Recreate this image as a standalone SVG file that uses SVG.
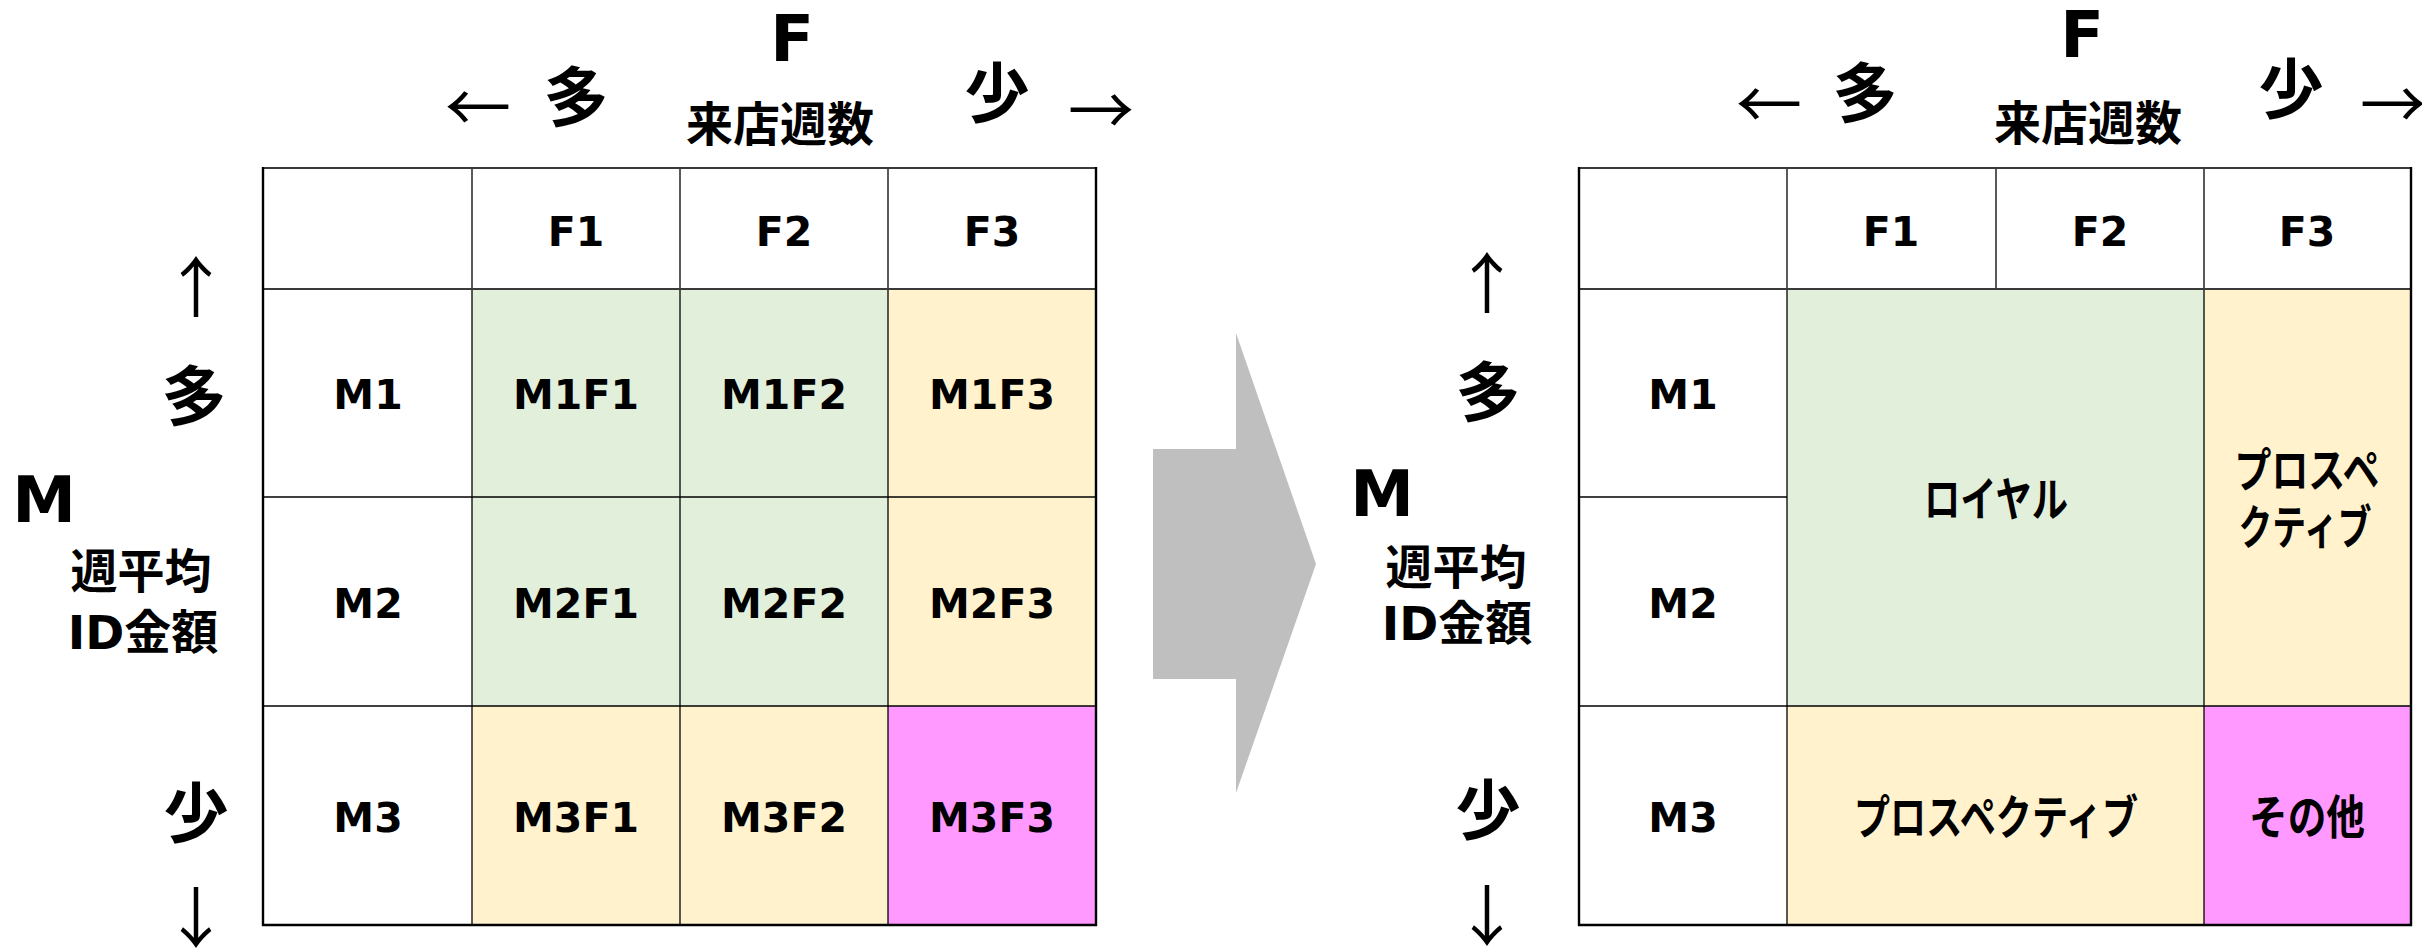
<svg xmlns="http://www.w3.org/2000/svg" width="2422" height="949" viewBox="0 0 2422 949">
<style>
.lat{font-family:"DejaVu Sans",Verdana,"Liberation Sans",sans-serif;font-weight:bold;fill:#000;text-anchor:middle}
.jp{font-family:"Noto Sans CJK JP","Noto Sans",sans-serif;font-weight:bold;fill:#000;text-anchor:middle}
.id{font-family:"DejaVu Sans",Verdana,sans-serif;font-weight:bold}
.arr{font-family:"Noto Sans CJK JP",sans-serif;font-weight:400;fill:#000;text-anchor:middle}
.g{fill:#E2EFDA}.y{fill:#FFF2CC}.p{fill:#FF99FF}.w{fill:#FFFFFF}
.thin{stroke:#000;stroke-width:1.3;fill:none}
.hd{stroke:#3a3a3a;stroke-width:2.2;fill:none}
.bd{stroke:#000;stroke-width:2.4;fill:none}
.cell{font-size:41px}
.kana{font-size:47px}
.big{font-size:64px}
.ax{font-size:65px}
.sub{font-size:47px}
.ml{font-size:47px}
.arw{font-size:66px}
</style>
<rect x="0" y="0" width="2422" height="949" fill="#fff"/>

<!-- LEFT MATRIX -->
<g id="left-table">
  <rect class="w" x="263" y="168" width="833" height="757"/>
  <rect class="g" x="472" y="289" width="416" height="417"/>
  <rect class="y" x="888" y="289" width="208" height="417"/>
  <rect class="y" x="472" y="706" width="416" height="219"/>
  <rect class="p" x="888" y="706" width="208" height="219"/>
  <line class="thin" x1="472" y1="168" x2="472" y2="925"/>
  <line class="thin" x1="680" y1="168" x2="680" y2="925"/>
  <line class="thin" x1="888" y1="168" x2="888" y2="925"/>
  <line class="thin" x1="263" y1="497" x2="1096" y2="497"/>
  <line class="thin" x1="263" y1="706" x2="1096" y2="706"/>
  <line class="hd" x1="263" y1="168" x2="1096" y2="168"/>
  <line class="hd" x1="263" y1="289" x2="1096" y2="289"/>
  <line class="bd" x1="263" y1="167" x2="263" y2="926"/>
  <line class="bd" x1="1096" y1="167" x2="1096" y2="926"/>
  <line class="bd" x1="262" y1="925" x2="1097" y2="925"/>
</g>
<g id="left-cells">
  <text class="lat cell" x="576" y="246">F1</text>
  <text class="lat cell" x="784" y="246">F2</text>
  <text class="lat cell" x="992" y="246">F3</text>
  <text class="lat cell" x="368" y="409">M1</text>
  <text class="lat cell" x="576" y="409">M1F1</text>
  <text class="lat cell" x="784" y="409">M1F2</text>
  <text class="lat cell" x="992" y="409">M1F3</text>
  <text class="lat cell" x="368" y="618">M2</text>
  <text class="lat cell" x="576" y="618">M2F1</text>
  <text class="lat cell" x="784" y="618">M2F2</text>
  <text class="lat cell" x="992" y="618">M2F3</text>
  <text class="lat cell" x="368" y="832">M3</text>
  <text class="lat cell" x="576" y="832">M3F1</text>
  <text class="lat cell" x="784" y="832">M3F2</text>
  <text class="lat cell" x="992" y="832">M3F3</text>
</g>
<g id="left-axis-f">
  <text class="lat big" x="792" y="61">F</text>
  <text class="jp sub" x="780" y="141">来店週数</text>
  <text class="arr arw" x="478" y="132">←</text>
  <text class="jp ax" x="576" y="121">多</text>
  <text class="jp ax" x="997" y="117">少</text>
  <text class="arr arw" x="1101" y="135">→</text>
</g>
<g id="left-axis-m">
  <text class="arr arw" x="196" y="312">↑</text>
  <text class="jp ax" x="194" y="420">多</text>
  <text class="lat big" x="44" y="522">M</text>
  <text class="jp ml" x="141" y="588">週平均</text>
  <text class="jp ml" x="143" y="649"><tspan class="id">ID</tspan>金額</text>
  <text class="jp ax" x="196" y="837">少</text>
  <text class="arr arw" x="196" y="942">↓</text>
</g>

<!-- BIG ARROW -->
<g id="transition-arrow">
  <polygon points="1153,449 1236,449 1236,333 1316,564 1236,793 1236,679 1153,679" fill="#BFBFBF"/>
</g>

<!-- RIGHT MATRIX -->
<g id="right-table">
  <rect class="w" x="1579" y="168" width="832" height="757"/>
  <rect class="g" x="1787" y="289" width="417" height="417"/>
  <rect class="y" x="2204" y="289" width="207" height="417"/>
  <rect class="y" x="1787" y="706" width="417" height="219"/>
  <rect class="p" x="2204" y="706" width="207" height="219"/>
  <line class="thin" x1="1787" y1="168" x2="1787" y2="925"/>
  <line class="thin" x1="1996" y1="168" x2="1996" y2="289"/>
  <line class="thin" x1="2204" y1="168" x2="2204" y2="925"/>
  <line class="thin" x1="1579" y1="497" x2="1787" y2="497"/>
  <line class="thin" x1="1579" y1="706" x2="2411" y2="706"/>
  <line class="hd" x1="1579" y1="168" x2="2411" y2="168"/>
  <line class="hd" x1="1579" y1="289" x2="2411" y2="289"/>
  <line class="bd" x1="1579" y1="167" x2="1579" y2="926"/>
  <line class="bd" x1="2411" y1="167" x2="2411" y2="926"/>
  <line class="bd" x1="1578" y1="925" x2="2412" y2="925"/>
</g>
<g id="right-cells">
  <text class="lat cell" x="1891" y="246">F1</text>
  <text class="lat cell" x="2100" y="246">F2</text>
  <text class="lat cell" x="2307" y="246">F3</text>
  <text class="lat cell" x="1683" y="409">M1</text>
  <text class="lat cell" x="1683" y="618">M2</text>
  <text class="lat cell" x="1683" y="832">M3</text>
  <text class="jp kana" x="1996" y="516" textLength="144" lengthAdjust="spacingAndGlyphs">ロイヤル</text>
  <text class="jp kana" x="2307" y="487" textLength="145" lengthAdjust="spacingAndGlyphs">プロスペ</text>
  <text class="jp kana" x="2305" y="544" textLength="133" lengthAdjust="spacingAndGlyphs">クティブ</text>
  <text class="jp kana" x="1996" y="834" textLength="284" lengthAdjust="spacingAndGlyphs">プロスペクティブ</text>
  <text class="jp kana" x="2307" y="834" textLength="116" lengthAdjust="spacingAndGlyphs">その他</text>
</g>
<g id="right-axis-f">
  <text class="lat big" x="2082" y="57">F</text>
  <text class="jp sub" x="2088" y="140">来店週数</text>
  <text class="arr arw" x="1769" y="129">←</text>
  <text class="jp ax" x="1865" y="117">多</text>
  <text class="jp ax" x="2291" y="113">少</text>
  <text class="arr arw" x="2393" y="129">→</text>
</g>
<g id="right-axis-m">
  <text class="arr arw" x="1487" y="308">↑</text>
  <text class="jp ax" x="1488" y="416">多</text>
  <text class="lat big" x="1382" y="516">M</text>
  <text class="jp ml" x="1456" y="584">週平均</text>
  <text class="jp ml" x="1457" y="640"><tspan class="id">ID</tspan>金額</text>
  <text class="jp ax" x="1488" y="834">少</text>
  <text class="arr arw" x="1487" y="940">↓</text>
</g>
</svg>
